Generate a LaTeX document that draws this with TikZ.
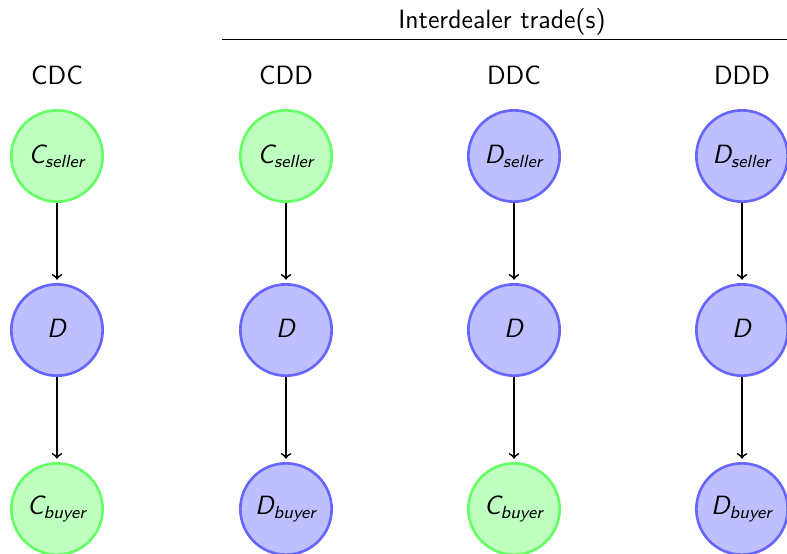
\documentclass[tikz,border=0pt]{standalone}
\usepackage{amsmath}
\tikzset{
  px/.style={x=0.4545pt,y=-0.4545pt},
  greennode/.style={circle,draw=green!60,fill=green!25,very thick,minimum size=41.5pt,inner sep=0pt,font=\large\sffamily},
  bluenode/.style={circle,draw=blue!60,fill=blue!25,very thick,minimum size=41.5pt,inner sep=0pt,font=\large\sffamily},
  lbl/.style={font=\large\sffamily,inner sep=0pt},
  conn/.style={->,thick,shorten >=1.5pt}
}
\newcommand{\sv}[2]{$\text{\sffamily\itshape #1}_{\text{\sffamily\itshape #2}}$}
\begin{document}
\begin{tikzpicture}[px]
\useasboundingbox (0,0) rectangle (787,553);
\node[lbl] (title) at (502,22) {Interdealer trade(s)};
\coordinate (la) at (222,39);
\coordinate (lb) at (787,39);
\draw (la) -- (lb);
\node[lbl] (l1) at (57,75) {CDC};
\node[lbl] (l2) at (286,75) {CDD};
\node[lbl] (l3) at (514,75) {DDC};
\node[lbl] (l4) at (742,75) {DDD};
% column 1
\node[greennode] (a1) at (57,156) {\sv{C}{seller}};
\node[bluenode] (b1) at (57,330) {\sv{D}{}};
\node[greennode] (c1) at (57,509) {\sv{C}{buyer}};
% column 2
\node[greennode] (a2) at (286,156) {\sv{C}{seller}};
\node[bluenode] (b2) at (286,330) {\sv{D}{}};
\node[bluenode] (c2) at (286,509) {\sv{D}{buyer}};
% column 3
\node[bluenode] (a3) at (514,156) {\sv{D}{seller}};
\node[bluenode] (b3) at (514,330) {\sv{D}{}};
\node[greennode] (c3) at (514,509) {\sv{C}{buyer}};
% column 4
\node[bluenode] (a4) at (742,156) {\sv{D}{seller}};
\node[bluenode] (b4) at (742,330) {\sv{D}{}};
\node[bluenode] (c4) at (742,509) {\sv{D}{buyer}};
\foreach \i in {1,2,3,4}{
  \draw[conn] (a\i) -- (b\i);
  \draw[conn] (b\i) -- (c\i);
}
\end{tikzpicture}
\end{document}
